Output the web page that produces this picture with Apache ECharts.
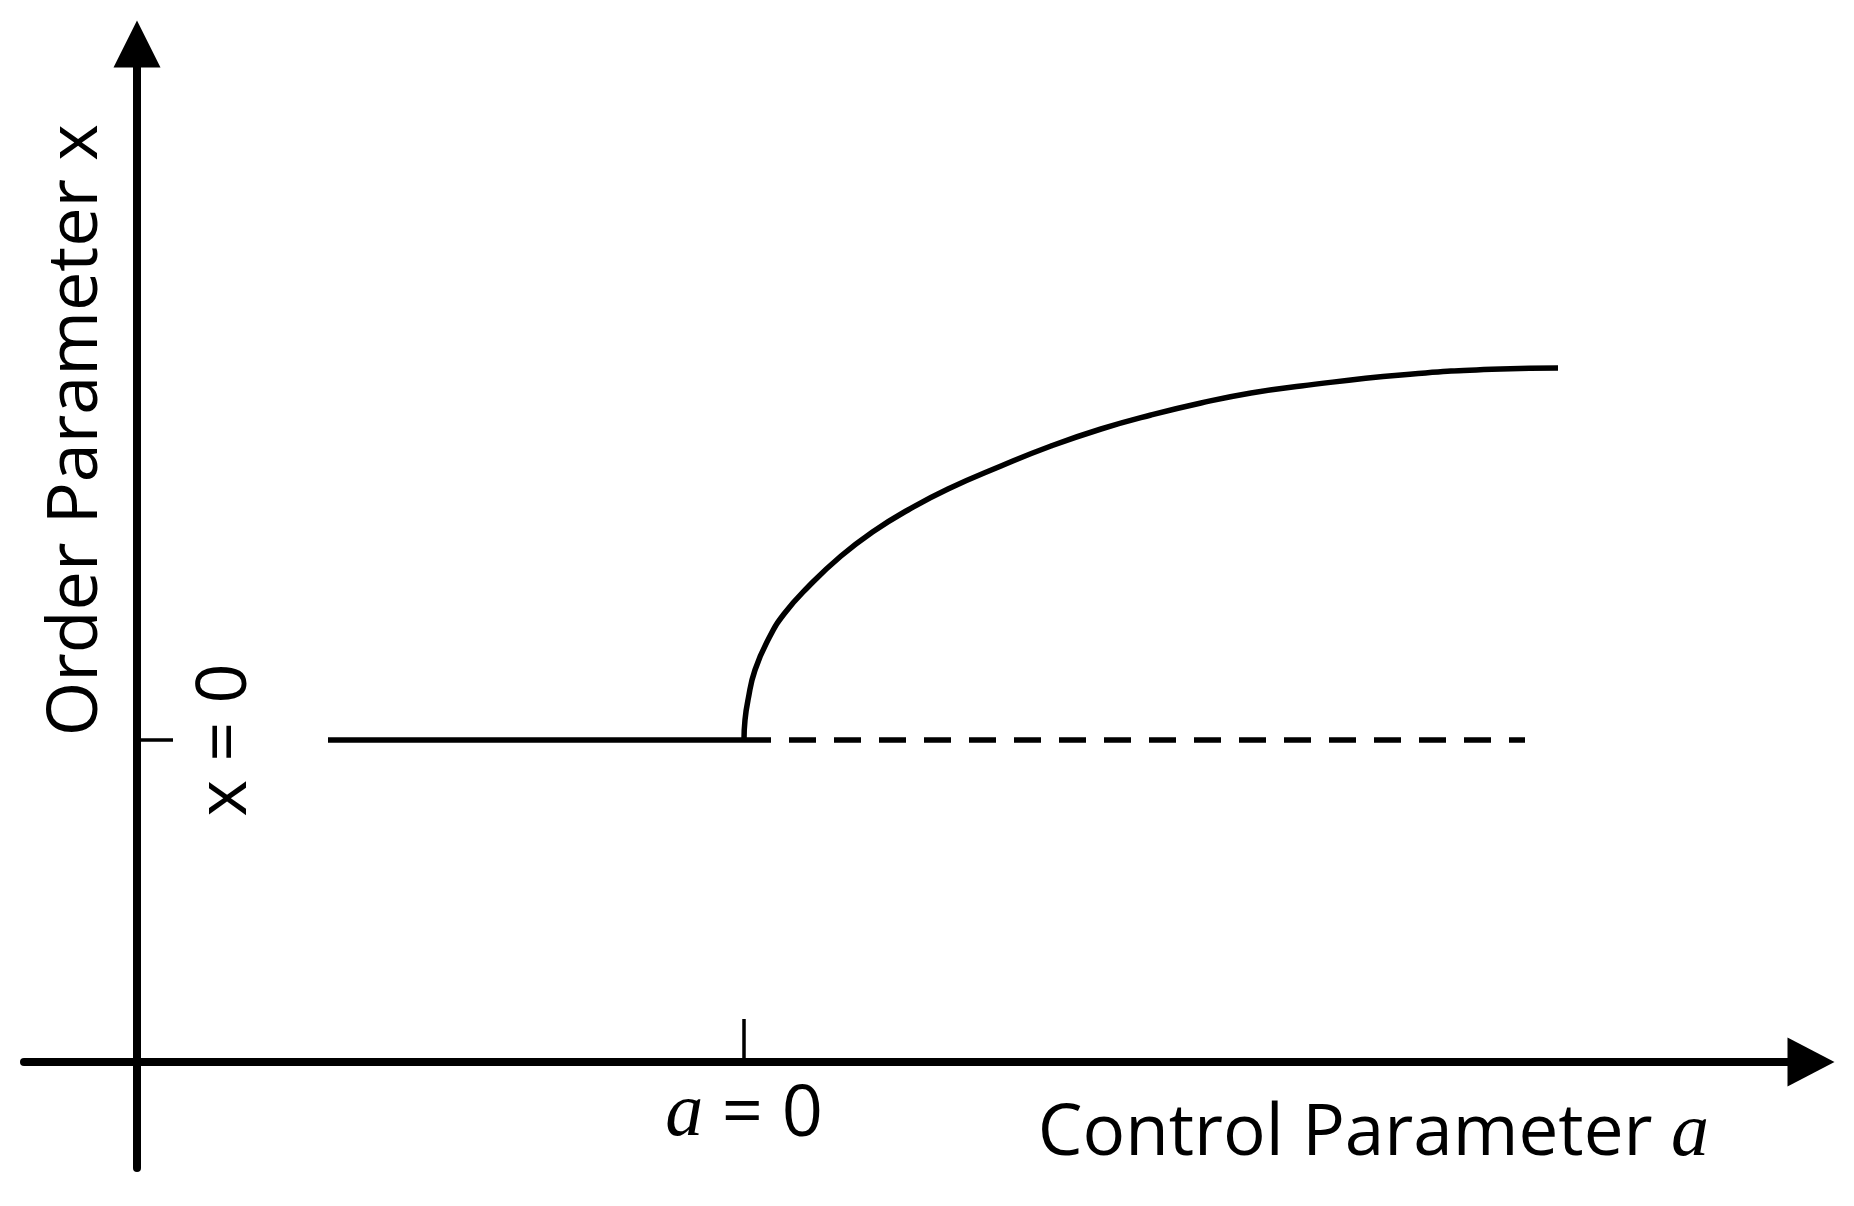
<!DOCTYPE html>
<html lang="en">
<head>
<meta charset="UTF-8">
<title>Order Parameter vs Control Parameter</title>
<style type="text/css">
    body { margin: 0; background-color: #fff; }
    #chart { width: 1854px; height: 1206px; }
</style>
</head>
<body>
<div id="chart"></div>
<script src="https://cdn.jsdelivr.net/npm/echarts@6.0.0/dist/echarts.min.js"></script>
<script type="text/javascript">
// axis crossing is the data origin; a = 0 and x = 0 are marked by ticks
var aZero = 6.07;
var xZero = 3.22;

// x = 0 branch before the transition (solid) and after it (dashed)
var stableBranch = [[1.91, 3.22], [6.07, 3.22]];
var unstableBranch = [[6.07, 3.22], [13.88, 3.22]];

// ordered branch
var orderedBranch = [
    [6.07, 3.22], [6.08, 3.42], [6.11, 3.62], [6.18, 3.92], [6.32, 4.24],
    [6.47, 4.48], [6.71, 4.75], [7.04, 5.06], [7.37, 5.31], [7.71, 5.52],
    [8.11, 5.73], [8.64, 5.96], [9.14, 6.16], [9.64, 6.33], [10.14, 6.47],
    [10.64, 6.59], [11.14, 6.69], [11.64, 6.76], [12.64, 6.87], [13.64, 6.93],
    [14.21, 6.94]
];

var font = 'Open Sans';
var italicA = { fontFamily: 'Liberation Serif', fontStyle: 'italic', fontSize: 76, color: '#000' };

var myChart = echarts.init(document.getElementById('chart'));
var option = {
    animation: false,
    backgroundColor: '#fff',
    grid: { left: 24, right: 43, top: 44, bottom: 38, outerBoundsMode: 'none', containLabel: false },
    xAxis: {
        type: 'value',
        min: -1.13,
        max: 16.74,
        splitLine: { show: false },
        axisLine: {
            onZero: true,
            symbol: ['none', 'triangle'],
            symbolSize: [49, 47],
            lineStyle: { color: '#000', width: 8 }
        },
        axisTick: {
            show: true,
            inside: true,
            length: 43,
            customValues: [aZero],
            lineStyle: { color: '#000', width: 3.5 }
        },
        axisLabel: {
            customValues: [aZero],
            margin: -91,
            fontFamily: font,
            fontSize: 72,
            color: '#000',
            formatter: function () { return '{i|a} = 0'; },
            rich: { i: italicA }
        },
        name: 'Control Parameter {i|a}',
        nameLocation: 'end',
        nameGap: -102,
        nameMoveOverlap: false,
        nameTextStyle: {
            fontFamily: font,
            fontSize: 71,
            lineHeight: 70,
            color: '#000',
            align: 'right',
            verticalAlign: 'top',
            padding: [38, 0, 0, 0],
            rich: { i: italicA }
        }
    },
    yAxis: {
        type: 'value',
        min: -1.06,
        max: 10.18,
        splitLine: { show: false },
        axisLine: {
            onZero: true,
            symbol: ['none', 'triangle'],
            symbolSize: [47, 47],
            lineStyle: { color: '#000', width: 8 }
        },
        axisTick: {
            show: true,
            inside: true,
            length: 36,
            customValues: [xZero],
            lineStyle: { color: '#000', width: 3.5 }
        },
        axisLabel: {
            customValues: [xZero],
            inside: true,
            rotate: 90,
            margin: 167,
            fontFamily: font,
            fontSize: 70,
            color: '#000',
            formatter: function () { return 'x = 0'; }
        },
        name: 'Order Parameter x',
        nameLocation: 'end',
        nameRotate: 90,
        nameGap: -80,
        nameMoveOverlap: false,
        nameTextStyle: {
            fontFamily: font,
            fontSize: 70,
            lineHeight: 70,
            color: '#000',
            align: 'right',
            verticalAlign: 'bottom',
            padding: [0, 0, 25, 0]
        }
    },
    series: [
        {
            name: 'stable',
            type: 'line',
            data: stableBranch,
            symbol: 'none',
            clip: false,
            lineStyle: { color: '#000', width: 5.5 }
        },
        {
            name: 'unstable',
            type: 'line',
            data: unstableBranch,
            symbol: 'none',
            clip: false,
            lineStyle: { color: '#000', width: 5.5, type: [27, 18] }
        },
        {
            name: 'ordered',
            type: 'line',
            data: orderedBranch,
            symbol: 'none',
            smooth: 0.5,
            clip: false,
            lineStyle: { color: '#000', width: 5.5 }
        }
    ]
};
myChart.setOption(option);
</script>
</body>
</html>
